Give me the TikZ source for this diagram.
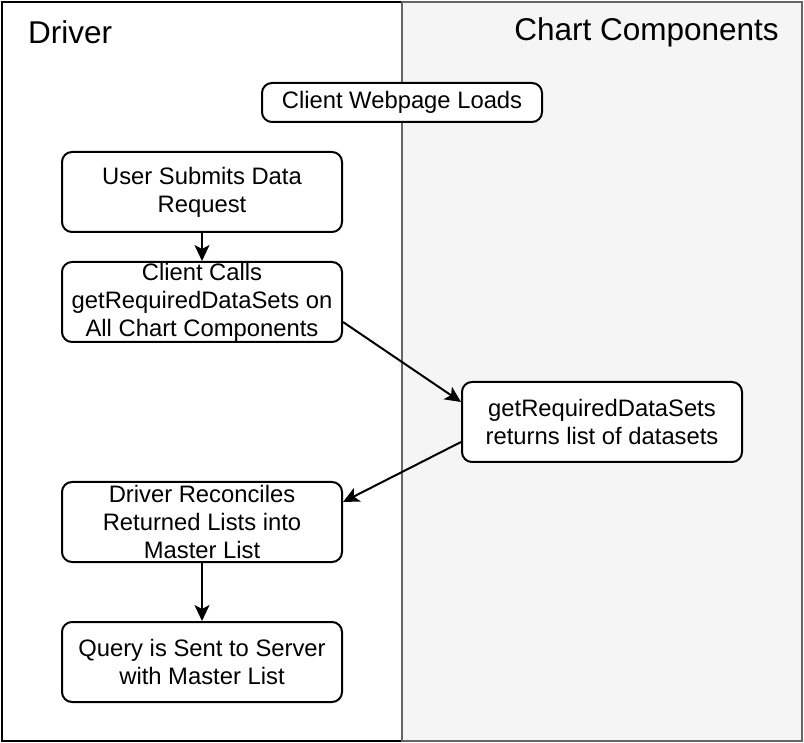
\documentclass[tikz,border=0pt]{standalone}
\usepackage{fontspec}
\setmainfont{Liberation Sans}
\usetikzlibrary{arrows.meta}
\definecolor{lanegray}{HTML}{F5F5F5}
\definecolor{laneline}{HTML}{666666}
\tikzset{
	lane/.style={draw, line width=2pt, inner sep=0pt, minimum width=400pt, minimum height=739pt},
	lanetitle/.style={inner sep=0pt, font=\fontsize{31.5}{36}\selectfont},
	stepbox/.style={draw, fill=white, line width=2pt, rounded corners=10pt, inner sep=0pt,
		minimum width=280pt, minimum height=80pt, align=center,
		font=\fontsize{23.8}{28}\selectfont},
	flow/.style={line width=2pt, -{Stealth[length=16pt, width=15pt, inset=4pt]}}
}
\begin{document}
\begin{tikzpicture}[x=1pt, y=-1pt]
	\useasboundingbox (0,0) rectangle (804,743);
	% swim lanes
	\node[lane] (drvlane) at (202,371.5) {};
	\node[lane, fill=lanegray, draw=laneline] (chartlane) at (602,371.5) {};
	\node[lanetitle, anchor=west] (drvtitle) at (28,32) {Driver};
	\node[lanetitle, anchor=east] (charttitle) at (779,32) {Chart Components};

	% steps
	\node[stepbox, minimum height=39pt] (load) at (402,102.5) {Client Webpage Loads};
	\node[stepbox] (submit) at (202,192) {User Submits Data\\Request};
	\node[stepbox] (calls) at (202,302) {Client Calls\\getRequiredDataSets on\\All Chart Components};
	\node[stepbox] (returns) at (602,422) {getRequiredDataSets\\returns list of datasets};
	\node[stepbox] (reconcile) at (202,522) {Driver Reconciles\\Returned Lists into\\Master List};
	\node[stepbox] (query) at (202,662) {Query is Sent to Server\\with Master List};

	% connectors
	\draw[flow] (submit) -- (calls);
	\draw[flow] ([yshift=-20pt]calls.east) -- ([yshift=20pt]returns.west);
	\draw[flow] ([yshift=-20pt]returns.west) -- ([yshift=20pt]reconcile.east);
	\draw[flow] (reconcile) -- (query);
\end{tikzpicture}
\end{document}
